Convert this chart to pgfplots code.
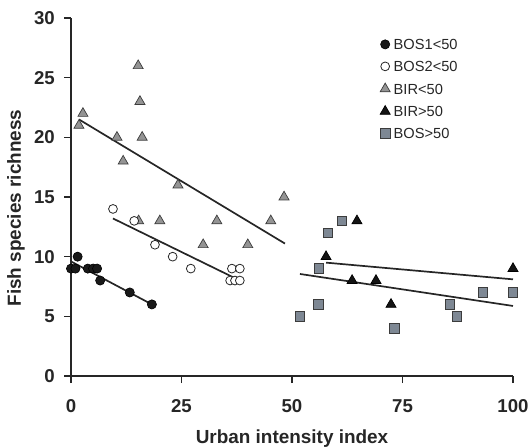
\documentclass[border=0pt]{standalone}
\usepackage{fontspec}
\setmainfont{Liberation Sans}
\usepackage{pgfplots}
\pgfplotsset{compat=1.18}
\definecolor{trigray}{RGB}{148,148,148}
\definecolor{sqfill}{RGB}{126,136,148}
\definecolor{edgegray}{RGB}{60,60,60}
\begin{document}
\begin{tikzpicture}
\begin{axis}[
  scale only axis,
  width=442bp, height=358bp,
  xmin=0, xmax=100, ymin=0, ymax=30,
  axis x line*=bottom, axis y line*=left,
  axis line style={line width=1.6bp, black!85},
  xtick={0,25,50,75,100}, ytick={0,5,10,15,20,25,30},
  tick align=outside, major tick length=7bp,
  tick style={line width=1.4bp, black!85},
  /pgf/number format/assume math mode=true,
  ticklabel style={font=\fontsize{18.7}{20}\selectfont\bfseries, text=black!85},
  xticklabel style={inner sep=0pt, anchor=north, yshift=-16bp},
  yticklabel style={inner sep=0pt, anchor=east, xshift=-9bp},
  xlabel={Urban intensity index},
  ylabel={Fish species richness},
  label style={font=\fontsize{19}{21}\selectfont\bfseries, text=black!85},
  xlabel style={at={(axis description cs:0.5,0)}, anchor=north, inner sep=0pt, yshift=-54bp},
  ylabel style={at={(axis description cs:0,0.469)}, anchor=center, inner sep=0pt, yshift=55bp},
  clip=false,
  legend style={draw=none, fill=none, at={(axis cs:69.9,28.25)}, anchor=north west,
    inner sep=0pt, row sep=11.4bp,
    font=\fontsize{14.7}{16}\selectfont, text=black!85,
    nodes={inner ysep=0pt, inner xsep=3.5bp, text height=10.6bp, text depth=0bp}},
  legend cell align=left,
  legend image code/.code={\draw[#1] plot coordinates {(0bp,0bp)};},
]
\coordinate (sw) at (rel axis cs:0,0);
\coordinate (ne) at (rel axis cs:1,1);

% regression lines
\addplot[forget plot, black!85, line width=1.7bp] coordinates {(0,9.6) (18.3,6.0)};
\addplot[forget plot, black!85, line width=1.7bp] coordinates {(9.5,13.2) (38.2,8.0)};
\addplot[forget plot, black!85, line width=1.7bp] coordinates {(1.8,21.5) (48.4,11.1)};
\addplot[forget plot, black!85, line width=1.7bp] coordinates {(57.7,9.5) (100,8.1)};
\addplot[forget plot, black!85, line width=1.7bp] coordinates {(51.8,8.55) (100,5.87)};

% BIR<50 point lying under an open circle
\addplot[forget plot, only marks, mark=triangle*, mark size=5.8bp, mark options={draw=edgegray, fill=trigray, line width=0.7bp}]
  coordinates {(15.3,13)};

% BOS1<50
\addplot[only marks, mark=*, mark size=4.6bp, mark options={draw=black, fill=black!90, line width=0.6bp}]
  coordinates {(0,9)(1,9)(1.5,10)(3.8,9)(5,9)(5.9,9)(6.6,8)(13.3,7)(18.3,6)};
\addlegendentry{BOS1<50}
% BOS2<50
\addplot[only marks, mark=*, mark size=4.4bp, mark options={draw=black!85, fill=white, line width=0.8bp}]
  coordinates {(9.5,14)(14.3,13)(19,11)(23,10)(27.1,9)(36.4,9)(38.2,9)(36,8)(37.1,8)(38.2,8)};
\addlegendentry{BOS2<50}
% BIR<50
\addplot[only marks, mark=triangle*, mark size=5.8bp, mark options={draw=edgegray, fill=trigray, line width=0.7bp}]
  coordinates {(1.8,21)(2.7,22)(10.4,20)(11.8,18)(15.2,26)(15.6,23)(16.1,20)(24.2,16)(20.1,13)(33,13)(29.9,11)(40,11)(45.2,13)(48.2,15)};
\addlegendentry{BIR<50}
% BIR>50
\addplot[only marks, mark=triangle*, mark size=5.8bp, mark options={draw=black, fill=black!92, line width=0.7bp}]
  coordinates {(57.7,10)(64.7,13)(63.6,8)(69,8)(72.4,6)(100,9)};
\addlegendentry{BIR>50}
% BOS>50
\addplot[only marks, mark=square*, mark size=4.8bp, mark options={draw=edgegray, fill=sqfill, line width=0.7bp}]
  coordinates {(51.8,5)(55.9,6)(56.1,9)(58.1,12)(61.3,13)(73.1,4)(85.7,6)(87.3,5)(93.2,7)(100,7)};
\addlegendentry{BOS>50}
\end{axis}
\pgfresetboundingbox
\path[use as bounding box] ([shift={(-71bp,-72bp)}]sw) rectangle ([shift={(16bp,18bp)}]ne);
\end{tikzpicture}
\end{document}
